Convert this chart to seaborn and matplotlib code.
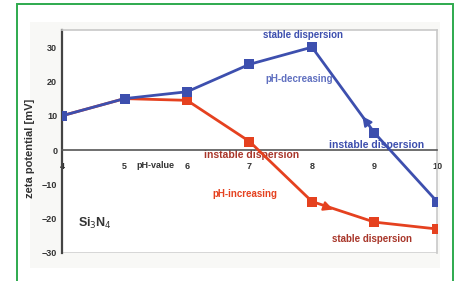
import matplotlib
matplotlib.use("Agg")
import matplotlib.pyplot as plt
from matplotlib.patches import Rectangle
import numpy as np
import pandas as pd
import seaborn as sns

# values
ph = [4, 5, 6, 7, 8, 9, 10]
zeta_decreasing = [10, 15, 17, 25, 30, 5, -15]
zeta_increasing = [10, 15, 14.5, 2.5, -15, -21, -23]
series_names = ["pH-decreasing", "pH-increasing"]
x_ticks = [4, 5, 6, 7, 8, 9, 10]
y_ticks = [-30, -20, -10, 0, 10, 20, 30]

blue = "#3d4fae"
red = "#e5411f"
maroon = "#a8362a"

data = pd.DataFrame({
    "ph": ph * 2,
    "zeta": zeta_decreasing + zeta_increasing,
    "series": [series_names[0]] * len(ph) + [series_names[1]] * len(ph),
})

sns.set_style("white")
plt.rcParams["font.family"] = ["Liberation Sans", "DejaVu Sans"]

fig = plt.figure(figsize=(4.6, 2.81), dpi=100)
# green frame and light panel behind the plot
fig.patches.append(Rectangle((17 / 460, -0.05), 436 / 460, 1.05 - 4 / 281,
                             transform=fig.transFigure, fill=False,
                             edgecolor="#2eaa4e", linewidth=1.4, zorder=5))
fig.patches.append(Rectangle((30 / 460, 1 - 268 / 281), 410 / 460, 246 / 281,
                             transform=fig.transFigure, facecolor="#f8f8f6",
                             edgecolor="none", zorder=-5))

ax = fig.add_axes([62 / 460, 1 - 253 / 281, 375 / 460, 223 / 281])
ax.set_facecolor("white")

# red first so the blue curve sits on top, as in the reference
sns.lineplot(data=data, x="ph", y="zeta", hue="series", style="series",
             hue_order=[series_names[1], series_names[0]],
             style_order=[series_names[1], series_names[0]],
             palette={series_names[0]: blue, series_names[1]: red},
             markers={series_names[0]: "s", series_names[1]: "s"},
             dashes=False, markersize=7, linewidth=2, markeredgewidth=0,
             legend=False, ax=ax, zorder=3)

ax.set_xlim(4, 10)
ax.set_ylim(-30, 35)
ax.set_xticks(x_ticks)
ax.set_yticks(y_ticks)
ax.set_yticks(np.arange(-30, 35, 5), minor=True)
ax.set_xticklabels(["4", "5", "6", "7", "8", "9", "10"])
ax.set_xlabel("")
ax.set_ylabel("zeta potential [mV]", fontsize=8, fontweight="bold",
              color="#333333")
ax.yaxis.set_label_coords(-0.072, 0.47)

for side in ["top", "right"]:
    ax.spines[side].set_color("#c8c8c8")
    ax.spines[side].set_linewidth(1.2)
ax.spines["bottom"].set_position(("data", 0))
ax.spines["bottom"].set_color("#555555")
ax.spines["bottom"].set_linewidth(1.2)
ax.spines["left"].set_color("#444444")
ax.spines["left"].set_linewidth(1.6)
# bottom border at -30
ax.axhline(-30, color="#d0d0d0", linewidth=1.2, zorder=1)

ax.tick_params(axis="both", which="both", direction="inout", length=3,
               width=0.8, colors="#444444", labelsize=6.5, pad=2)
ax.tick_params(axis="x", pad=7)
ax.tick_params(axis="y", which="minor", length=2)
for lbl in ax.get_xticklabels() + ax.get_yticklabels():
    lbl.set_fontweight("bold")
    lbl.set_color("#333333")

ax.text(5.5, -4.5, "pH-value", fontsize=6.5, fontweight="bold",
        color="#333333", ha="center", va="center")

# arrows along the curves
ax.annotate("", xy=(8.78, 10.5), xytext=(8.9, 7.5),
            arrowprops=dict(arrowstyle="-|>", color=blue, lw=1.5,
                            mutation_scale=14), zorder=4)
ax.annotate("", xy=(8.38, -17.6), xytext=(8.2, -16.4),
            arrowprops=dict(arrowstyle="-|>", color=red, lw=1.5,
                            mutation_scale=14), zorder=4)

ax.text(7.86, 33.6, "stable dispersion", fontsize=7, fontweight="bold",
        color=blue, ha="center", va="center")
ax.text(7.8, 20.6, "pH-decreasing", fontsize=7, fontweight="bold",
        color="#6070c0", ha="center", va="center")
ax.text(9.03, 1.6, "instable dispersion", fontsize=7.5, fontweight="bold",
        color=blue, ha="center", va="center", zorder=2)
ax.text(7.04, -1.5, "instable dispersion", fontsize=7.5, fontweight="bold",
        color=maroon, ha="center", va="center", zorder=2)
ax.text(6.93, -12.8, "pH-increasing", fontsize=7, fontweight="bold",
        color=red, ha="center", va="center")
ax.text(8.96, -25.8, "stable dispersion", fontsize=7, fontweight="bold",
        color=maroon, ha="center", va="center")
ax.text(4.25, -21.5, "Si$_3$N$_4$", fontsize=9, fontweight="bold",
        color="#333333", ha="left", va="center")

fig.savefig("out.png", dpi=100)
